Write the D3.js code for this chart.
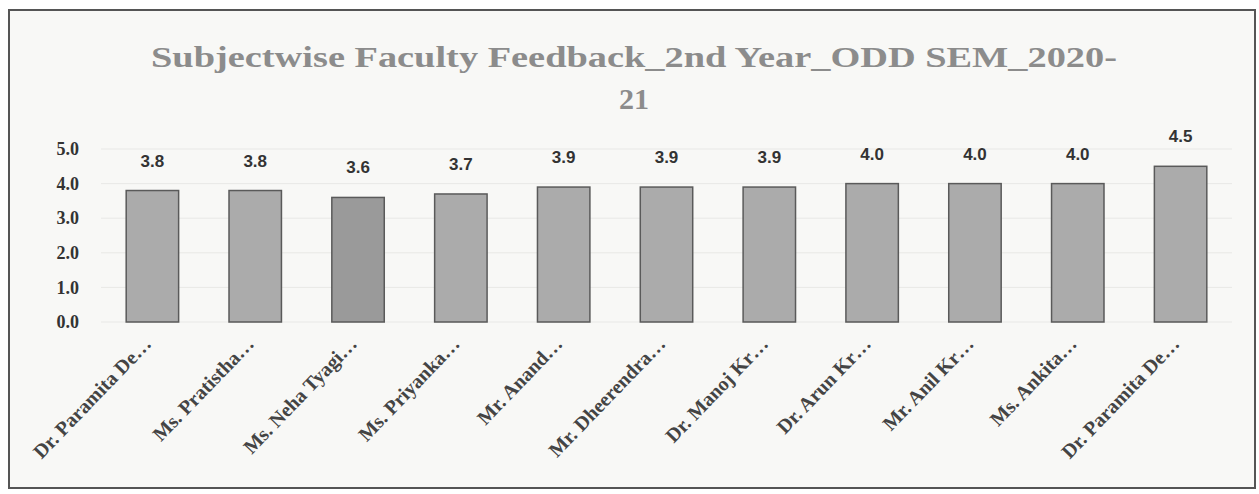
<!DOCTYPE html>
<html><head><meta charset="utf-8">
<script src="https://cdn.jsdelivr.net/npm/d3@7"></script>
<style>body{margin:0;background:#fff;}svg{display:block;}</style>
</head><body><svg id="c" width="1259" height="494"></svg>
<script>
const categories = ["Dr. Paramita De…","Ms. Pratistha…","Ms. Neha Tyagi…","Ms. Priyanka…","Mr. Anand…","Mr. Dheerendra…","Dr. Manoj Kr…","Dr. Arun Kr…","Mr. Anil Kr…","Ms. Ankita…","Dr. Paramita De…"];
const values = [3.8,3.8,3.6,3.7,3.9,3.9,3.9,4.0,4.0,4.0,4.5];
const yTicks = [0,1,2,3,4,5];
const titleLines = ["Subjectwise Faculty Feedback_2nd Year_ODD SEM_2020-","21"];

const svg = d3.select("#c");
svg.append("rect").attr("x",9).attr("y",10).attr("width",1246).attr("height",478)
  .attr("fill","#f8f8f6").attr("stroke","#555").attr("stroke-width",2);

const x = d3.scaleBand().domain(d3.range(categories.length)).range([101,1232]).paddingInner(0.49).paddingOuter(0.245);
const y = d3.scaleLinear().domain([0,5]).range([322,149]);

// gridlines
svg.append("g").selectAll("line").data(yTicks).join("line")
  .attr("x1",101).attr("x2",1232).attr("y1",d=>y(d)).attr("y2",d=>y(d))
  .attr("stroke","#e8e8e6").attr("stroke-width",1);

// y axis
const ya = svg.append("g").attr("transform","translate(83,0)")
  .call(d3.axisLeft(y).tickValues(yTicks).tickFormat(d3.format(".1f")).tickSize(0).tickPadding(4));
ya.select(".domain").remove();
ya.selectAll("text").attr("font-family","'Liberation Serif',serif").attr("font-weight","bold")
  .attr("font-size",18).attr("fill","#333");

// bars
svg.append("g").selectAll("rect").data(values).join("rect")
  .attr("x",(d,i)=>x(i)).attr("width",x.bandwidth())
  .attr("y",d=>y(d)).attr("height",d=>y(0)-y(d))
  .attr("fill",(d,i)=>i===2?"#9a9a9a":"#ababab").attr("stroke","#5a5a5a").attr("stroke-width",1.5);

// value labels
svg.append("g").selectAll("text").data(values).join("text")
  .attr("x",(d,i)=>x(i)+x.bandwidth()/2).attr("y",d=>y(d)-24)
  .attr("text-anchor","middle").attr("font-family","'Liberation Sans',Arial,sans-serif")
  .attr("font-weight","bold").attr("font-size",17).attr("fill","#333")
  .text(d=>d3.format(".1f")(d));

// x axis labels
const xa = svg.append("g").attr("transform","translate(0,"+y(0)+")")
  .call(d3.axisBottom(x).tickFormat(i=>categories[i]).tickSize(0).tickPadding(0));
xa.select(".domain").remove();
xa.selectAll("text").attr("font-family","'Liberation Serif',serif").attr("font-weight","bold")
  .attr("font-size",20).attr("fill","#444").attr("text-anchor","end")
  .attr("dy","0.35em")
  .attr("transform","translate(-5,18) rotate(-46)");

// title
svg.append("g").selectAll("text").data(titleLines).join("text")
  .attr("x",634).attr("y",(d,i)=>67+i*42).attr("text-anchor","middle")
  .attr("font-family","'Liberation Serif',serif").attr("font-weight","bold")
  .attr("font-size",30).attr("fill","#8c8c8c")
  .each(function(d,i){ if(i===0) d3.select(this).attr("textLength",966).attr("lengthAdjust","spacingAndGlyphs"); })
  .text(d=>d);
</script></body></html>
